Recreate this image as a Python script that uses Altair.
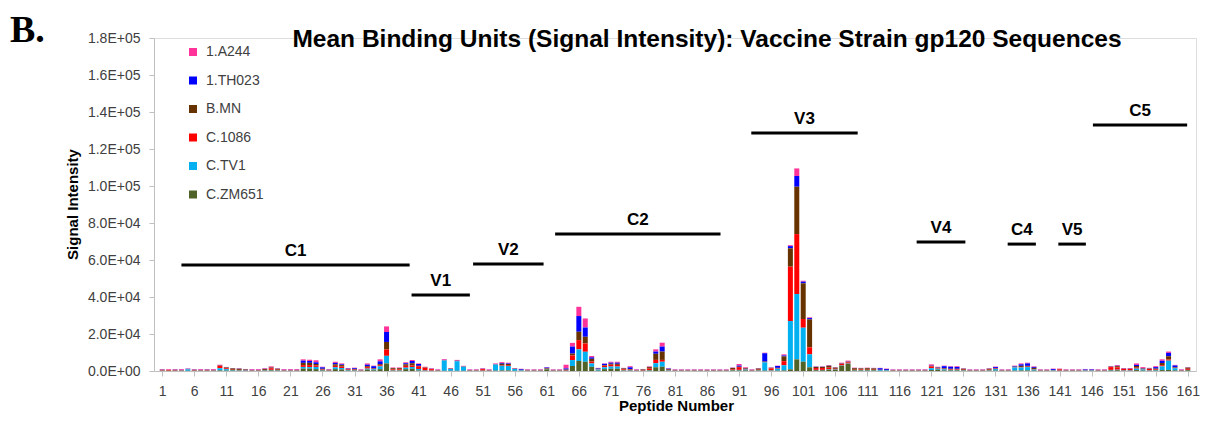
import altair as alt
import pandas as pd

# ---------------- data (in thousands) ----------------
peptides = list(range(1, 162))
strains = ["1.A244", "1.TH023", "B.MN", "C.1086", "C.TV1", "C.ZM651"]
colors = ["#FF3399", "#0000FF", "#663300", "#FF0000", "#00B0F0", "#4F6228"]
# stacking position from the bottom (0 = bottom)
stack_pos = {"C.ZM651": 0, "C.TV1": 1, "C.1086": 2, "B.MN": 3, "1.TH023": 4, "1.A244": 5}

ZM651 = [
    .1, .1, .1, .1, .1, .1, .1, .1, .1, .3,
    .2, .2, .2, .1, .1, .1, .2, .3, .2, .1,
    .1, .1, 1.3, 1.3, 1.0, .3, .1, 1.0, .8, .2,
    .2, .1, .8, .4, 1.0, 4.1, .2, .2, 1.0, 1.2,
    .3, .1, .1, .1, .1, .1, .1, .1, .1, .1,
    .1, .1, .2, .3, .3, .1, .1, .1, .1, .1,
    .9, .1, .1, .1, 2.7, 5.4, 5.0, 2.3, .2, 1.0,
    1.2, 1.2, .2, .2, .1, .1, .3, 2.0, 2.3, .2,
    .1, .1, .1, .1, .1, .1, .1, .1, .1, .3,
    .3, .3, .1, .2, .2, .2, .2, .3, .9, 6.3,
    5.0, 2.0, .4, .4, .8, .6, 2.8, 3.8, .3, .3,
    .3, .3, .1, .1, .1, .1, .1, .1, .1, .1,
    .5, .7, .3, .3, .3, .2, .1, .1, .1, .2,
    .2, .1, .1, .2, .3, .3, .2, .1, .1, .1,
    .1, .1, .1, .1, .1, .1, .1, .1, .3, .4,
    .1, .1, .5, .2, .1, .2, .5, .6, .3, .1,
    .4,
]
TV1 = [
    .1, .1, .1, .1, .8, .1, .1, .1, .1, 1.2,
    .8, .3, .2, .2, .1, .1, .2, .3, .2, .1,
    .1, .1, .9, .8, 1.2, .3, .1, 1.0, .8, .3,
    .2, .1, .5, .5, 1.5, 4.1, .2, .2, .8, 1.0,
    .8, .2, .1, .1, 5.6, 1.0, 5.2, 2.2, .1, .1,
    .1, .1, 3.3, 2.5, 2.4, 1.0, .3, .1, .1, .1,
    .2, .1, .1, .1, 3.2, 6.3, 5.4, 1.8, .6, 1.0,
    1.2, 1.2, .2, .2, .1, .1, .2, 2.2, 2.7, .2,
    .1, .1, .1, .1, .1, .1, .1, .1, .1, .2,
    .3, .5, .1, .2, 4.5, .2, 1.0, 2.8, 26.1, 35.3,
    18.4, 7.0, .2, .2, .2, .2, .2, .2, .2, .2,
    .2, .2, .4, .3, .1, .1, .1, .1, .1, .1,
    1.0, .5, .6, .3, .3, .2, .1, .1, .1, .2,
    .8, .1, .1, 1.7, 1.6, 1.8, .6, .1, .1, .2,
    .1, .1, .1, .1, .2, .2, .1, .1, .3, .3,
    .2, .2, .8, .6, .2, .3, 2.0, 5.0, 1.2, .1,
    .2,
]
C1086 = [
    .3, .2, .3, .2, .1, .3, .2, .3, .2, 1.3,
    .5, .2, .2, .2, .2, .2, .2, .9, .3, .2,
    .2, .2, 1.0, 1.1, .8, .3, .2, .8, .8, .3,
    .3, .2, .8, .3, .6, 3.4, .5, .5, 1.0, .8,
    1.5, 1.5, .8, .2, .1, .1, .1, .1, .2, .2,
    .8, .2, .1, .3, .4, .1, .1, .2, .2, .2,
    .1, .2, .2, .3, 2.5, 5.0, 4.5, 1.0, .2, .8,
    1.0, .9, .5, .3, .2, .3, .8, 1.8, 1.0, .2,
    .2, .2, .2, .2, .2, .2, .2, .2, .2, .3,
    1.5, .3, .2, .3, .2, 1.0, .3, 2.2, 29.4, 32.4,
    4.7, 3.8, 1.0, 1.0, .8, .4, .8, .6, .2, .3,
    .2, .2, .1, .1, .2, .2, .2, .2, .2, .2,
    1.0, .3, .3, .3, .3, .3, .2, .2, .2, .3,
    .3, .2, .2, .2, .3, .3, .3, .2, .2, .1,
    .7, .2, .2, .2, .1, .1, .2, .2, 1.5, 1.3,
    .8, .8, .5, .2, .8, .3, .6, .6, .2, .2,
    .6,
]
BMN = [
    .1, .1, .1, .1, .1, .1, .1, .1, .1, .2,
    .4, .7, .6, .3, .1, .1, .5, .4, .5, .1,
    .1, .1, 1.2, 1.2, .8, .3, .2, .8, .8, .3,
    .3, .1, .5, .3, .6, 4.1, .6, .6, .8, 1.2,
    .2, .2, .1, .1, .1, .1, .1, .1, .1, .1,
    .1, .1, .1, .8, .7, .1, .1, .1, .1, .1,
    .3, .1, .1, .3, 1.0, 4.5, 3.6, 1.5, .2, .3,
    .5, .6, .5, .3, .1, .3, .8, 3.3, 4.5, .4,
    .1, .1, .1, .1, .1, .1, .1, .1, .1, .8,
    .2, .3, .1, .6, .2, .3, .2, 2.6, 9.9, 25.6,
    19.3, 15.1, .6, .6, 1.0, .6, .2, .4, .8, .6,
    .8, .7, .1, .1, .1, .1, .1, .1, .1, .1,
    .3, .3, .3, .3, .3, .5, .1, .1, .1, .5,
    .2, .1, .1, .2, .6, .4, .6, .1, .1, .1,
    .1, .1, .1, .1, .1, .1, .1, .1, .2, .6,
    .1, .1, .9, .3, .2, .5, 1.2, 1.8, .3, .1,
    .6,
]
TH023 = [
    .1, .1, .1, .1, .1, .1, .1, .1, .1, .1,
    .1, .1, .1, .1, .1, .1, .1, .1, .1, .1,
    .1, .1, 1.2, 1.0, .9, .8, .1, .8, .4, .2,
    .5, .1, .8, 1.1, 1.5, 5.4, .1, .1, .6, 1.2,
    1.0, .1, .1, .1, .1, .1, .1, .1, .1, .1,
    .1, .1, .1, .4, .3, .1, .4, .1, .1, .1,
    .4, .1, .1, .6, 3.8, 8.5, 5.0, .8, .3, .8,
    .6, .6, .1, 1.0, .1, .1, .1, 1.2, 2.7, .3,
    .1, .1, .1, .1, .1, .1, .1, .1, .1, .1,
    .6, .2, .1, .1, 4.5, .1, 1.0, .5, 1.2, 5.8,
    .9, .7, .1, .1, .1, .1, .1, .1, .1, .1,
    .1, .1, .8, .5, .1, .1, .1, .1, .1, .1,
    .2, .2, 1.1, 1.1, 1.0, .1, .1, .1, .1, .1,
    .6, .1, .1, .3, .8, 1.3, .5, .1, .1, .5,
    .1, .1, .1, .1, .3, .3, .1, .1, .1, .2,
    .1, .1, .6, .2, .1, .8, 1.2, 1.8, 1.0, .1,
    .1,
]
A244 = [
    .3, .4, .3, .4, .2, .3, .4, .3, .4, .3,
    .2, .1, .2, .2, .4, .4, .3, .5, .2, .4,
    .4, .4, .7, .7, 1.1, .3, .3, .6, .5, .3,
    .3, .3, .7, .3, 1.1, 3.0, .3, .3, .5, .5,
    .3, .2, .3, .3, .4, .2, .4, .2, .3, .3,
    .3, .3, .3, .5, .4, .2, .2, .3, .3, .3,
    .2, .3, .3, 2.0, 2.0, 5.0, 4.9, .7, .2, .2,
    .5, .5, .2, .6, .3, .2, .3, 1.2, 2.1, .2,
    .3, .3, .3, .3, .3, .3, .3, .3, .3, .2,
    .9, .4, .3, .2, .3, .2, .2, .6, .5, 4.1,
    .5, .4, .2, .2, .3, .2, .4, .5, .2, .2,
    .2, .2, .2, .2, .3, .3, .3, .3, .3, .3,
    .6, .3, .3, .3, .4, .2, .3, .3, .3, .2,
    .3, .3, .3, .3, .5, .4, .3, .3, .3, .3,
    .2, .3, .3, .3, .3, .3, .3, .3, .3, .4,
    .3, .3, .8, .6, .3, .5, .8, .7, .3, .3,
    .2,
]

series = {"1.A244": A244, "1.TH023": TH023, "B.MN": BMN,
          "C.1086": C1086, "C.TV1": TV1, "C.ZM651": ZM651}

# region annotation bars (peptide span and height)
region_names = ["C1", "V1", "V2", "C2", "V3", "V4", "C4", "V5", "C5"]
region_start = [4.0, 39.9, 49.5, 62.3, 92.9, 118.7, 132.9, 140.8, 146.2]
region_end = [39.6, 49.0, 60.5, 88.1, 109.5, 126.3, 137.3, 145.1, 160.9]
region_level = [57300, 41100, 57800, 74000, 128600, 69700, 68600, 68600, 133000]

TITLE = "Mean Binding Units (Signal Intensity): Vaccine Strain gp120 Sequences"
PANEL = "B."
x_ticks = list(range(1, 162, 5))
y_ticks = list(range(0, 180001, 20000))

# ---------------- build tables ----------------
rows = []
for s in strains:
    vals = series[s]
    assert len(vals) == len(peptides), s
    for p, v in zip(peptides, vals):
        rows.append({"peptide": p, "strain": s, "value": v * 1000, "pos": stack_pos[s]})
df = pd.DataFrame(rows)

reg = pd.DataFrame({"name": region_names, "start": region_start,
                    "end": region_end, "level": region_level})

FONT = "Liberation Sans"
x_scale = alt.Scale(domain=[0.5, 161.5], nice=False, zero=False)
y_scale = alt.Scale(domain=[0, 180000], nice=False)

x_axis = alt.Axis(values=x_ticks, format="d", title="Peptide Number", grid=False,
                  domainColor="#BFBFBF", tickColor="#BFBFBF", tickSize=5,
                  labelFont=FONT, labelFontSize=14, labelColor="#404040", labelPadding=8,
                  titleFont=FONT, titleFontSize=15, titleFontWeight="bold", titleColor="black",
                  titleX=522, titleY=34, titleBaseline="middle")
y_axis = alt.Axis(values=y_ticks, grid=False, title="Signal Intensity",
                  labelExpr="replace(format(datum.value, '.1e'), 'e+', 'E+0')",
                  domainColor="#BFBFBF", tickColor="#BFBFBF", tickSize=5,
                  labelFont=FONT, labelFontSize=14, labelColor="#404040", labelPadding=9,
                  titleFont=FONT, titleFontSize=15, titleFontWeight="bold", titleColor="black",
                  titleX=-82, titleY=166, titleBaseline="middle", titleAlign="center")

bars = alt.Chart(df).mark_bar(size=5).encode(
    x=alt.X("peptide:Q", scale=x_scale, axis=x_axis),
    y=alt.Y("value:Q", stack="zero", scale=y_scale, axis=y_axis),
    color=alt.Color("strain:N", scale=alt.Scale(domain=strains, range=colors),
                    legend=alt.Legend(title=None, orient="none", legendX=32, legendY=7,
                                      symbolType="square", symbolSize=64, symbolStrokeWidth=0,
                                      labelFont=FONT, labelFontSize=14, labelColor="#404040",
                                      labelOffset=6, rowPadding=14.5, padding=0)),
    order=alt.Order("pos:Q", sort="ascending"),
)

rules = alt.Chart(reg).mark_rule(color="black", strokeWidth=3).encode(
    x=alt.X("start:Q", scale=x_scale, axis=x_axis),
    x2="end:Q",
    y=alt.Y("level:Q", scale=y_scale, axis=y_axis),
)

labels = alt.Chart(reg).transform_calculate(
    mid="(datum.start + datum.end) / 2"
).mark_text(font=FONT, fontSize=17, fontWeight="bold", color="black", dy=-14).encode(
    x=alt.X("mid:Q", scale=x_scale, axis=x_axis),
    y=alt.Y("level:Q", scale=y_scale, axis=y_axis),
    text="name:N",
)

title = alt.Chart(pd.DataFrame({"t": [TITLE]})).mark_text(
    font=FONT, fontSize=24.5, fontWeight="bold", color="black", align="center",
    baseline="alphabetic"
).encode(x=alt.value(553), y=alt.value(9), text="t:N")

panel = alt.Chart(pd.DataFrame({"t": [PANEL]})).mark_text(
    font="Liberation Serif", fontSize=38, fontWeight="bold", color="black", align="left",
    baseline="alphabetic"
).encode(x=alt.value(-144), y=alt.value(4), text="t:N")

chart = alt.layer(bars, rules, labels, title, panel).properties(
    width=1042, height=333,
    autosize=alt.AutoSizeParams(type="none"),
    padding={"left": 146, "top": 30, "right": 12, "bottom": 50},
).configure_view(strokeWidth=0).configure(background="white")

chart.save("out.html", embed_options={"renderer": "svg", "actions": False})
